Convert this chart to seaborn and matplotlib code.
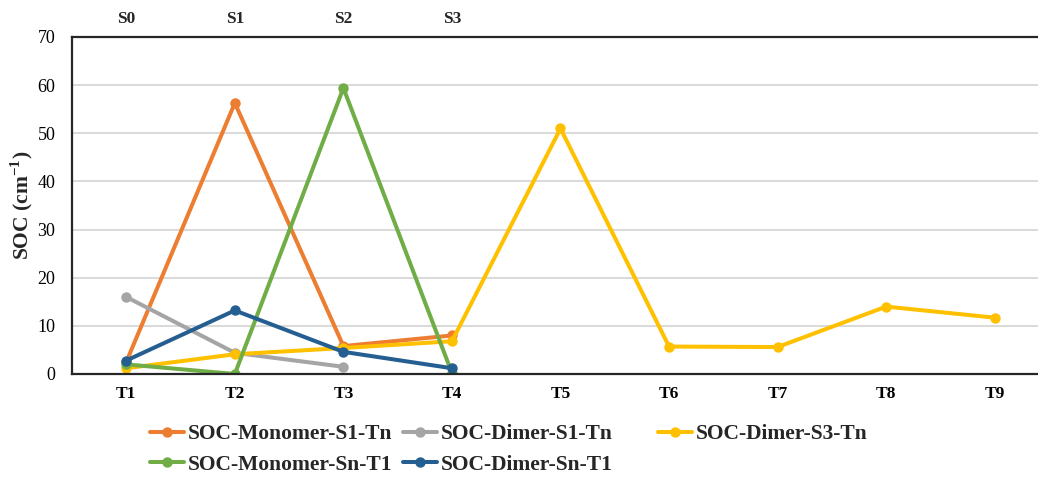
import numpy as np
import pandas as pd
import matplotlib
matplotlib.use("Agg")
import matplotlib.pyplot as plt
import seaborn as sns

# Excited-state labels and SOC values (cm^-1)
t_states = ["T1", "T2", "T3", "T4", "T5", "T6", "T7", "T8", "T9"]
s_states = ["S0", "S1", "S2", "S3"]

monomer_s1_tn = [2.5, 56.3, 5.8, 8.0]
dimer_s1_tn = [16.0, 4.4, 1.5]
dimer_s3_tn = [1.2, 4.1, 5.4, 6.8, 51.0, 5.7, 5.6, 14.0, 11.7]
monomer_sn_t1 = [2.0, 0.0, 59.4, 0.2]
dimer_sn_t1 = [2.8, 13.2, 4.6, 1.2]

series_names = ["SOC-Monomer-S1-Tn", "SOC-Dimer-S1-Tn", "SOC-Dimer-S3-Tn",
                "SOC-Monomer-Sn-T1", "SOC-Dimer-Sn-T1"]
series_values = [monomer_s1_tn, dimer_s1_tn, dimer_s3_tn, monomer_sn_t1, dimer_sn_t1]
series_colors = ["#ED7D31", "#A5A5A5", "#FFC000", "#70AD47", "#255E91"]

sns.set_theme(style="white")
plt.rcParams["font.family"] = ["Liberation Serif", "DejaVu Serif"]
plt.rcParams["mathtext.fontset"] = "custom"
plt.rcParams["mathtext.rm"] = "Liberation Serif:bold"
plt.rcParams["mathtext.bf"] = "Liberation Serif:bold"

fig = plt.figure(figsize=(10.38, 4.79), dpi=100)
ax = fig.add_axes([72 / 1038, 1 - 374 / 479, (1049 - 72) / 1038, (374 - 37) / 479])

rows = []
for name, vals in zip(series_names, series_values):
    for state, v in zip(t_states, vals):
        rows.append({"series": name, "state": t_states.index(state), "soc": v})
df = pd.DataFrame(rows)

handles = {}
for name, color in zip(series_names, series_colors):
    sub = df[df["series"] == name]
    sns.lineplot(data=sub, x="state", y="soc", ax=ax, color=color,
                 linewidth=2.9, marker="o", markersize=7.5,
                 markeredgewidth=0, label=name, legend=False)
    handles[name] = ax.lines[-1]

ax.set_xlim(-0.5, len(t_states) - 0.5)
ax.set_ylim(0, 70)
ax.set_yticks(np.arange(0, 71, 10))
ax.set_xticks(range(len(t_states)))
ax.set_xticklabels(t_states, fontweight="bold", fontsize=12.5)
ax.tick_params(axis="x", length=0, pad=9, colors="#000000")
ax.tick_params(axis="y", length=0, pad=12, labelsize=13, colors="#000000")
ax.set_xlabel("")
ax.set_ylabel("SOC (cm$^{-1}$)", fontsize=15.5, fontweight="bold", labelpad=2)

ax.yaxis.grid(True, color="#D9D9D9", linewidth=1.4)
ax.set_axisbelow(True)
for side in ["left", "top", "bottom"]:
    ax.spines[side].set_color("#262626")
    ax.spines[side].set_linewidth(1.6)
ax.spines["right"].set_visible(False)

# Singlet labels along the top edge
top = ax.secondary_xaxis("top")
top.set_xticks(range(len(s_states)))
top.set_xticklabels(s_states, fontweight="bold", fontsize=12.5)
top.tick_params(length=0, pad=7)
top.spines["top"].set_visible(False)

# Legend laid out in two blocks
order1 = ["SOC-Monomer-S1-Tn", "SOC-Monomer-Sn-T1", "SOC-Dimer-S1-Tn", "SOC-Dimer-Sn-T1"]
leg1 = fig.legend([handles[n] for n in order1], order1, ncol=2,
                  loc="upper left", bbox_to_anchor=(150 / 1038, 1 - 424 / 479),
                  frameon=False, prop={"weight": "bold", "size": 15.5},
                  handlelength=1.6, handletextpad=0.15, columnspacing=0.5,
                  labelspacing=0.5, borderpad=0, borderaxespad=0)
leg2 = fig.legend([handles["SOC-Dimer-S3-Tn"]], ["SOC-Dimer-S3-Tn"],
                  loc="upper left", bbox_to_anchor=(658 / 1038, 1 - 424 / 479),
                  frameon=False, prop={"weight": "bold", "size": 15.5},
                  handlelength=1.6, handletextpad=0.15,
                  borderpad=0, borderaxespad=0)

fig.savefig("out.png", dpi=100)
